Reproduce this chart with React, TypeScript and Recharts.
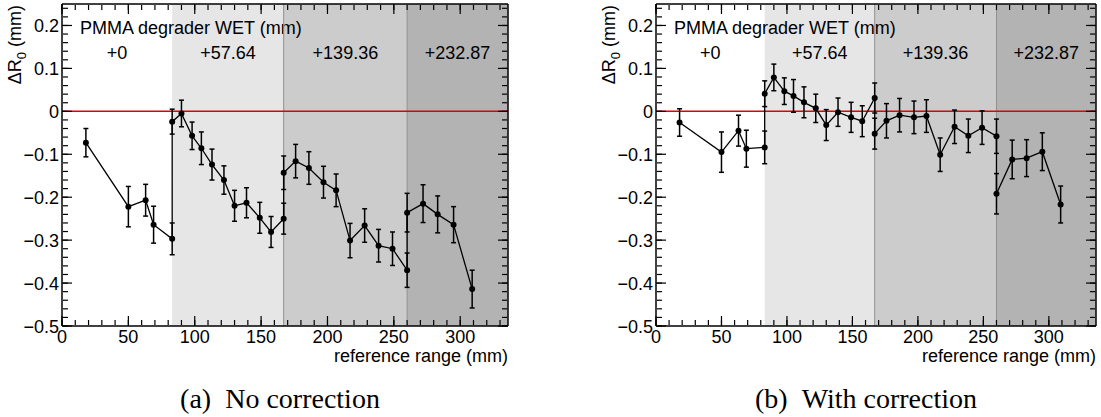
import { LineChart, Line, XAxis, YAxis, ErrorBar, ReferenceArea, ReferenceLine } from 'recharts';

// reference range of each measurement (mm), same for both panels
const refRange = [18, 50, 63, 69, 83, 83, 90, 98, 105, 113, 122, 130, 139, 149, 157.5, 167, 167, 176, 186, 197, 206.5, 217, 228, 238.5, 249, 260, 260, 272, 283, 295, 309];

// (a) no correction
const shiftNoCorr = [-0.073, -0.222, -0.207, -0.264, -0.297, -0.024, -0.005, -0.057, -0.086, -0.124, -0.16, -0.22, -0.213, -0.248, -0.281, -0.25, -0.143, -0.116, -0.132, -0.165, -0.184, -0.301, -0.266, -0.313, -0.32, -0.37, -0.236, -0.215, -0.24, -0.264, -0.414];
const errNoCorr = [0.033, 0.047, 0.037, 0.043, 0.037, 0.029, 0.031, 0.032, 0.038, 0.036, 0.033, 0.036, 0.035, 0.036, 0.036, 0.036, 0.039, 0.039, 0.038, 0.037, 0.038, 0.04, 0.039, 0.038, 0.039, 0.04, 0.045, 0.044, 0.043, 0.042, 0.044];

// (b) with correction
const shiftCorr = [-0.026, -0.095, -0.045, -0.087, -0.084, 0.041, 0.079, 0.047, 0.036, 0.021, 0.007, -0.032, -0.002, -0.014, -0.023, 0.031, -0.052, -0.022, -0.009, -0.014, -0.011, -0.101, -0.036, -0.057, -0.038, -0.058, -0.192, -0.112, -0.109, -0.094, -0.217];
const errCorr = [0.032, 0.047, 0.036, 0.043, 0.038, 0.03, 0.031, 0.031, 0.038, 0.036, 0.033, 0.036, 0.033, 0.035, 0.036, 0.035, 0.036, 0.04, 0.039, 0.038, 0.038, 0.039, 0.039, 0.039, 0.039, 0.04, 0.047, 0.045, 0.043, 0.044, 0.043];

const degraderWet = ['+0', '+57.64', '+139.36', '+232.87'];
const degraderEdges = [0, 83, 167, 260, 336];
const xTicks = [0, 50, 100, 150, 200, 250, 300];
const yTicks = [-0.5, -0.4, -0.3, -0.2, -0.1, 0, 0.1, 0.2];

const xMinor: number[] = [];
for (let v = 0; v <= 330; v += 10) xMinor.push(v);
const yMinor: number[] = [];
for (let k = -25; k <= 12; k++) yMinor.push(Math.round(k * 2) / 100);

const FONT = '"Liberation Sans", Arial, Helvetica, sans-serif';
const shades = ['#ffffff', '#e6e6e6', '#cccccc', '#b3b3b3'];
const X_DOMAIN: [number, number] = [0, 336];
const Y_DOMAIN: [number, number] = [-0.5, 0.25];

const fmtY = (v: number) => (v === 0 ? '0' : v < 0 ? '\u2212' + Math.abs(v).toFixed(1) : v.toFixed(1));

const XTick = (p: any) => (
  <text x={p.x} y={p.y + 17} textAnchor="middle" fontFamily={FONT} fontSize={18} fill="#000">
    {p.payload.value}
  </text>
);

const YTick = (p: any) => (
  <text x={p.x} y={p.y + 6.5} textAnchor="end" fontFamily={FONT} fontSize={18} fill="#000">
    {fmtY(p.payload.value)}
  </text>
);

const NoTick = () => <g />;

const XTitle = (p: any) => {
  const vb = p.viewBox;
  return (
    <text x={vb.x + vb.width} y={vb.y + 36} textAnchor="end" fontFamily={FONT} fontSize={18} fill="#000">
      reference range (mm)
    </text>
  );
};

const YTitle = () => (
  <text x={20.5} y={5} transform="rotate(-90, 20.5, 5)" textAnchor="end" fontFamily={FONT} fontSize={18} fill="#000">
    <tspan>ΔR</tspan>
    <tspan fontSize={13} dy={5}>0</tspan>
    <tspan dy={-5}> (mm)</tspan>
  </text>
);

const TitleLabel = (p: any) => {
  const vb = p.viewBox;
  return (
    <text x={vb.x + 18} y={vb.y + 29.5} fontFamily={FONT} fontSize={18} fill="#000">
      PMMA degrader WET (mm)
    </text>
  );
};

function regionLabel(text: string) {
  return (p: any) => {
    const vb = p.viewBox;
    return (
      <text x={vb.x + vb.width / 2} y={vb.y + 54.5} textAnchor="middle" fontFamily={FONT} fontSize={18} fill="#000">
        {text}
      </text>
    );
  };
}

const frame = { stroke: '#000', strokeWidth: 1.5 };
const tickStyle = { stroke: '#000', strokeWidth: 1.2 };

function Panel({ shift, err, width, plotWidth }: { shift: number[]; err: number[]; width: number; plotWidth: number }) {
  const data = refRange.map((x, i) => ({ x, y: shift[i], err: err[i] }));
  const tickAxis = { type: 'number' as const, allowDataOverflow: true, interval: 0 as const, tick: NoTick, tickLine: tickStyle };

  return (
    <LineChart width={width} height={417} data={data} margin={{ top: 4, right: width - 62 - plotWidth, bottom: 0, left: 0 }}>
      <XAxis xAxisId="x" dataKey="x" type="number" domain={X_DOMAIN} allowDataOverflow ticks={xTicks} interval={0} height={91}
        tickLine={false} axisLine={false} tickSize={0} tickMargin={0} tick={XTick} label={{ content: XTitle }} />
      <XAxis xAxisId="xb1" dataKey="x" orientation="bottom" mirror height={1} domain={X_DOMAIN} ticks={xTicks} tickSize={10} axisLine={frame} {...tickAxis} />
      <XAxis xAxisId="xb2" dataKey="x" orientation="bottom" mirror height={1} domain={X_DOMAIN} ticks={xMinor} tickSize={5} axisLine={false} {...tickAxis} />
      <XAxis xAxisId="xt1" dataKey="x" orientation="top" mirror height={1} domain={X_DOMAIN} ticks={xTicks} tickSize={10} axisLine={frame} {...tickAxis} />
      <XAxis xAxisId="xt2" dataKey="x" orientation="top" mirror height={1} domain={X_DOMAIN} ticks={xMinor} tickSize={5} axisLine={false} {...tickAxis} />

      <YAxis yAxisId="y" type="number" domain={Y_DOMAIN} allowDataOverflow ticks={yTicks} interval={0} width={62}
        tickLine={false} axisLine={false} tickSize={0} tickMargin={3} tick={YTick} label={{ content: YTitle }} />
      <YAxis yAxisId="yl1" dataKey="y" orientation="left" mirror width={1} domain={Y_DOMAIN} ticks={yTicks} tickSize={10} axisLine={frame} {...tickAxis} />
      <YAxis yAxisId="yl2" dataKey="y" orientation="left" mirror width={1} domain={Y_DOMAIN} ticks={yMinor} tickSize={5} axisLine={false} {...tickAxis} />
      <YAxis yAxisId="yr1" dataKey="y" orientation="right" mirror width={1} domain={Y_DOMAIN} ticks={yTicks} tickSize={10} axisLine={frame} {...tickAxis} />
      <YAxis yAxisId="yr2" dataKey="y" orientation="right" mirror width={1} domain={Y_DOMAIN} ticks={yMinor} tickSize={5} axisLine={false} {...tickAxis} />

      {degraderWet.map((lab, i) => (
        <ReferenceArea key={lab} xAxisId="x" yAxisId="y" x1={degraderEdges[i]} x2={degraderEdges[i + 1]} y1={Y_DOMAIN[0]} y2={Y_DOMAIN[1]}
          fill={shades[i]} fillOpacity={1} stroke="none" label={{ content: regionLabel(lab) }} />
      ))}
      <ReferenceArea xAxisId="x" yAxisId="y" x1={X_DOMAIN[0]} x2={X_DOMAIN[1]} y1={Y_DOMAIN[0]} y2={Y_DOMAIN[1]}
        fill="none" stroke="none" label={{ content: TitleLabel }} />
      <ReferenceLine xAxisId="x" yAxisId="y" x={degraderEdges[2]} stroke="#8f8f8f" strokeWidth={1} />
      <ReferenceLine xAxisId="x" yAxisId="y" x={degraderEdges[3]} stroke="#8f8f8f" strokeWidth={1} />
      <ReferenceLine xAxisId="x" yAxisId="y" y={0} stroke="#e00000" strokeWidth={1.5} />

      <Line xAxisId="x" yAxisId="y" type="linear" dataKey="y" stroke="#000" strokeWidth={1.3}
        dot={{ r: 3, fill: '#000', stroke: 'none' }} activeDot={false} isAnimationActive={false}>
        <ErrorBar dataKey="err" direction="y" width={2.5} stroke="#000" strokeWidth={1.5} isAnimationActive={false} />
      </Line>
    </LineChart>
  );
}

export default function App() {
  const serif = '"Liberation Serif", "Times New Roman", serif';
  return (
    <div style={{ position: 'absolute', left: 0, top: 0, width: 1101, height: 417, background: '#fff', overflow: 'hidden' }}>
      <div style={{ position: 'absolute', left: 0, top: 0 }}>
        <Panel shift={shiftNoCorr} err={errNoCorr} width={530} plotWidth={446} />
      </div>
      <div style={{ position: 'absolute', left: 594, top: 0 }}>
        <Panel shift={shiftCorr} err={errCorr} width={507} plotWidth={440} />
      </div>
      <svg width={1101} height={417} style={{ position: 'absolute', left: 0, top: 0, pointerEvents: 'none' }}>
        <text x={280} y={408} textAnchor="middle" fontFamily={serif} fontSize={28} fill="#000">
          (a){'\u2002'}No correction
        </text>
        <text x={866} y={408} textAnchor="middle" fontFamily={serif} fontSize={28} fill="#000">
          (b){'\u2002'}With correction
        </text>
      </svg>
    </div>
  );
}
